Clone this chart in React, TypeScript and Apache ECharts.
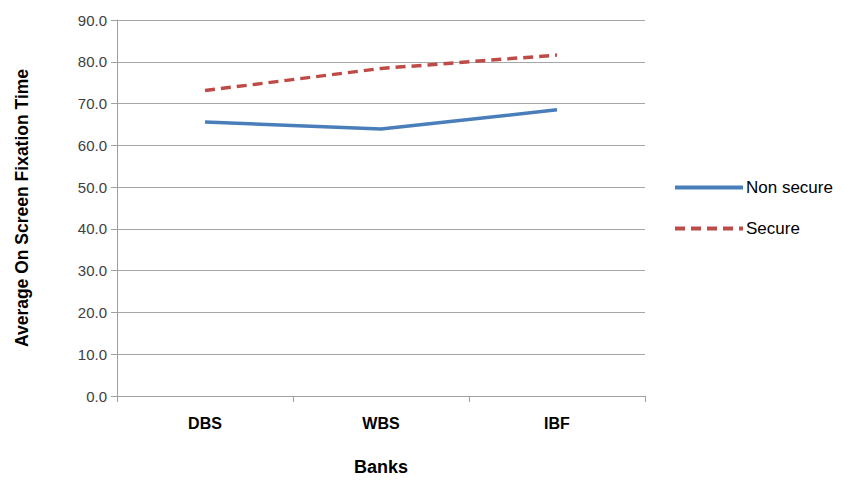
import React, { useEffect, useRef } from "react";
import * as echarts from "echarts";

const categories = ["DBS", "WBS", "IBF"];
const nonSecure = [65.6, 63.9, 68.5];
const secure = [73.1, 78.4, 81.6];
const seriesNames = ["Non secure", "Secure"];

const FONT = "'Liberation Sans Narrow', 'Arial Narrow', 'Liberation Sans', Arial, sans-serif";

export default function App() {
  const ref = useRef<HTMLDivElement>(null);
  useEffect(() => {
    if (!ref.current) return;
    const chart = echarts.init(ref.current, null, { renderer: "svg" });
    chart.setOption({
      animation: false,
      backgroundColor: "#ffffff",
      textStyle: { fontFamily: FONT },
      grid: { left: 117, top: 20, right: 201, bottom: 84, containLabel: false },
      legend: {
        orient: "vertical",
        left: 668,
        top: 174,
        itemWidth: 68,
        itemHeight: 14,
        itemGap: 24,
        itemStyle: { opacity: 0 },
        lineStyle: { width: 4 },
        textStyle: { fontFamily: FONT, fontSize: 17, color: "#000", padding: [0, 0, 0, -2] },
        data: seriesNames,
      },
      xAxis: {
        type: "category",
        data: categories,
        boundaryGap: true,
        name: "Banks",
        nameLocation: "middle",
        nameGap: 62,
        nameTextStyle: { fontFamily: FONT, fontSize: 18, fontWeight: "bold", color: "#000" },
        axisLine: { lineStyle: { color: "#a0a0a0", width: 1 } },
        axisTick: { show: true, length: 6, lineStyle: { color: "#a0a0a0" } },
        axisLabel: { fontFamily: FONT, fontSize: 16, fontWeight: "bold", color: "#000", margin: 19 },
      },
      yAxis: {
        type: "value",
        min: 0,
        max: 90,
        interval: 10,
        name: "Average On Screen Fixation Time",
        nameLocation: "middle",
        nameGap: 86,
        nameTextStyle: { fontFamily: FONT, fontSize: 17.5, fontWeight: "bold", color: "#000" },
        axisLine: { show: true, lineStyle: { color: "#a0a0a0", width: 1 } },
        axisTick: { show: true, length: 6, lineStyle: { color: "#a0a0a0" } },
        axisLabel: {
          fontFamily: FONT,
          fontSize: 15,
          color: "#404040",
          margin: 10,
          formatter: (v: number) => v.toFixed(1),
        },
        splitLine: { show: true, lineStyle: { color: "#a6a6a6", width: 1 } },
      },
      series: [
        {
          name: seriesNames[0],
          type: "line",
          data: nonSecure,
          symbol: "none",
          lineStyle: { color: "#4a7ebb", width: 3.5 },
          itemStyle: { color: "#4a7ebb" },
        },
        {
          name: seriesNames[1],
          type: "line",
          data: secure,
          symbol: "none",
          lineStyle: { color: "#be4b48", width: 3.5, type: [10, 6] },
          itemStyle: { color: "#be4b48" },
        },
      ],
    });
    return () => chart.dispose();
  }, []);
  return (
    <div
      ref={ref}
      style={{ position: "fixed", left: 0, top: 0, width: 846, height: 481 }}
    />
  );
}
